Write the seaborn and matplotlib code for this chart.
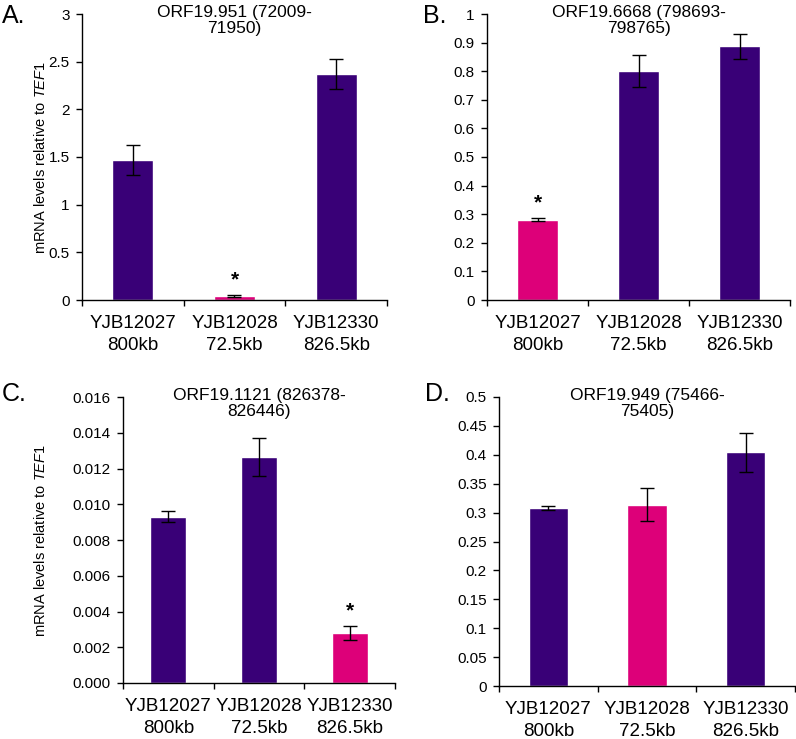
import matplotlib
matplotlib.use("Agg")
import matplotlib.pyplot as plt
import seaborn as sns
import pandas as pd
from matplotlib.ticker import FixedLocator, FuncFormatter

sns.set_theme(style="white")
plt.rcParams['font.family'] = ['Liberation Sans', 'DejaVu Sans']
plt.rcParams['mathtext.fontset'] = 'custom'
plt.rcParams['mathtext.rm'] = 'Liberation Sans'
plt.rcParams['mathtext.it'] = 'Liberation Sans:italic'
for k in ['text.color', 'axes.labelcolor', 'xtick.color', 'ytick.color']:
    plt.rcParams[k] = 'black'

strains = ["YJB12027\n800kb", "YJB12028\n72.5kb", "YJB12330\n826.5kb"]

titles = ["ORF19.951 (72009-\n71950)", "ORF19.6668 (798693-\n798765)",
          "ORF19.1121 (826378-\n826446)", "ORF19.949 (75466-\n75405)"]
letters = ["A.", "B.", "C.", "D."]

vals_a = [1.47, 0.045, 2.37]
errs_a = [0.16, 0.01, 0.16]
vals_b = [0.281, 0.800, 0.887]
errs_b = [0.005, 0.055, 0.043]
vals_c = [0.0093, 0.01265, 0.0028]
errs_c = [0.0003, 0.00105, 0.0004]
vals_d = [0.308, 0.314, 0.404]
errs_d = [0.004, 0.029, 0.034]

sig_a = [False, True, False]
sig_b = [True, False, False]
sig_c = [False, False, True]
sig_d = [False, False, False]

pink_a = [False, True, False]
pink_b = [True, False, False]
pink_c = [False, False, True]
pink_d = [False, True, False]

yticks_a = [0, 0.5, 1, 1.5, 2, 2.5, 3]
yticks_b = [0, 0.1, 0.2, 0.3, 0.4, 0.5, 0.6, 0.7, 0.8, 0.9, 1]
yticks_c = [0, 0.002, 0.004, 0.006, 0.008, 0.010, 0.012, 0.014, 0.016]
yticks_d = [0, 0.05, 0.1, 0.15, 0.2, 0.25, 0.3, 0.35, 0.4, 0.45, 0.5]

PURPLE = "#390077"
PINK = "#dd0079"

W, H = 796, 739
fig = plt.figure(figsize=(W / 100, H / 100), dpi=100)

# axes boxes in pixels: left, right, top, bottom
boxes = [(82, 387, 14, 300), (487, 790, 14, 300), (123, 395, 397, 683), (499, 795, 397, 686)]
letter_pos = [(2, 4), (423, 4), (2, 382), (425, 382)]

panels = [
    (vals_a, errs_a, sig_a, pink_a, yticks_a, lambda v, p: f"{v:g}"),
    (vals_b, errs_b, sig_b, pink_b, yticks_b, lambda v, p: f"{v:g}"),
    (vals_c, errs_c, sig_c, pink_c, yticks_c, lambda v, p: f"{v:.3f}"),
    (vals_d, errs_d, sig_d, pink_d, yticks_d, lambda v, p: f"{v:g}"),
]

for i, (vals, errs, sig, pink, yticks, fmt) in enumerate(panels):
    l, r, t, b = boxes[i]
    ax = fig.add_axes([l / W, (H - b) / H, (r - l) / W, (b - t) / H])
    df = pd.DataFrame({"strain": strains, "value": vals})
    pal = {s: (PINK if pk else PURPLE) for s, pk in zip(strains, pink)}
    sns.barplot(data=df, x="strain", y="value", hue="strain", palette=pal,
                legend=False, width=0.4, ax=ax, saturation=1, errorbar=None)
    ax.errorbar(range(len(vals)), vals, yerr=errs, fmt="none", ecolor="black",
                elinewidth=1, capsize=5, capthick=1)
    for j, s in enumerate(sig):
        if s:
            ax.text(j, vals[j] + errs[j] + (yticks[-1] * 0.02), "*", ha="center",
                    va="bottom", fontsize=15, fontweight="bold", color="black")
    ax.set_xlim(-0.5, 2.5)
    ax.set_ylim(0, yticks[-1])
    ax.yaxis.set_major_locator(FixedLocator(yticks))
    ax.yaxis.set_major_formatter(FuncFormatter(fmt))
    ax.set_xticks([0, 1, 2])
    ax.set_xticklabels(strains, fontsize=13.5, linespacing=1.35)
    ax.xaxis.set_minor_locator(FixedLocator([-0.5, 0.5, 1.5, 2.5]))
    ax.tick_params(axis="x", which="major", length=0, pad=11, colors="black")
    ax.tick_params(axis="x", which="minor", length=4, width=1, direction="out",
                   bottom=True, color="black")
    ax.tick_params(axis="y", which="major", length=4, width=1, direction="out",
                   left=True, labelsize=11, pad=5, colors="black")
    for sp in ["top", "right"]:
        ax.spines[sp].set_visible(False)
    for sp in ["left", "bottom"]:
        ax.spines[sp].set_color("black")
        ax.spines[sp].set_linewidth(1)
    ax.set_xlabel("")
    if i in (0, 2):
        ax.set_ylabel(r"mRNA levels relative to $\it{TEF1}$", fontsize=10.5,
                      color="black")
        ax.yaxis.set_label_coords((48 - l) / (r - l), 0.5)
    else:
        ax.set_ylabel("")
    ax.text(0.5, (b - (t - 9)) / (b - t), titles[i], transform=ax.transAxes,
            ha="center", va="top", fontsize=12.5, linespacing=1.1, color="black")
    lx, ly = letter_pos[i]
    fig.text(lx / W, 1 - ly / H, letters[i], ha="left", va="top", fontsize=18,
             color="black")

fig.savefig("out.png", dpi=100)
